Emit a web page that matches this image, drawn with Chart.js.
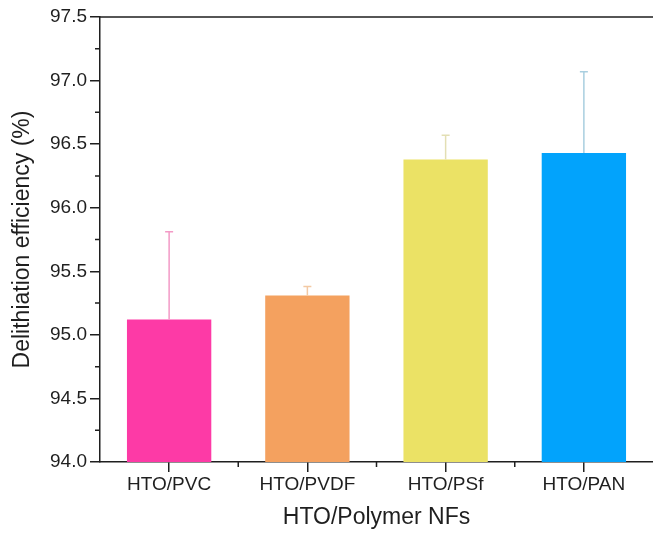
<!DOCTYPE html>
<html>
<head>
<meta charset="utf-8">
<script src="https://cdn.jsdelivr.net/npm/chart.js@4.4.1/dist/chart.umd.min.js"></script>
<style>
  html, body { margin: 0; padding: 0; background: #ffffff; }
  #wrap { width: 653px; height: 538px; position: relative; }
</style>
</head>
<body>
<div id="wrap"><canvas id="chart" width="653" height="538"></canvas></div>
<script>
// Delithiation efficiency of HTO/polymer nanofibres
const categories = ['HTO/PVC', 'HTO/PVDF', 'HTO/PSf', 'HTO/PAN'];
const efficiency = [95.12, 95.31, 96.38, 96.43];
const errorUp = [0.69, 0.07, 0.19, 0.64];
const yTicks = [94.0, 94.5, 95.0, 95.5, 96.0, 96.5, 97.0, 97.5];

const barColors = ['#fd3aa6', '#f4a15f', '#ebe265', '#02a3fc'];
const whiskerColors = ['#f39ac6', '#f3c9a4', '#e3dfb4', '#a9cfe0'];
const inkColor = '#1f1f1f';
const fontFamily = '"Liberation Sans", Arial, sans-serif';

// Upper error whiskers plus minor ticks and the top frame line
const extras = {
  id: 'extras',
  afterDatasetsDraw(chart) {
    const { ctx, scales: { y } } = chart;
    const meta = chart.getDatasetMeta(0);
    ctx.save();
    meta.data.forEach((bar, i) => {
      const top = y.getPixelForValue(efficiency[i] + errorUp[i]);
      const base = y.getPixelForValue(efficiency[i]);
      ctx.strokeStyle = whiskerColors[i];
      ctx.lineWidth = 1.5;
      ctx.beginPath();
      ctx.moveTo(bar.x, base);
      ctx.lineTo(bar.x, top);
      ctx.moveTo(bar.x - 4, top);
      ctx.lineTo(bar.x + 4, top);
      ctx.stroke();
    });
    ctx.restore();
  },
  afterDraw(chart) {
    const { ctx, chartArea, scales: { x, y } } = chart;
    ctx.save();
    ctx.strokeStyle = inkColor;
    ctx.lineWidth = 1.5;
    ctx.beginPath();
    // top frame
    ctx.moveTo(chartArea.left, chartArea.top);
    ctx.lineTo(chartArea.right, chartArea.top);
    // minor y ticks halfway between labelled ones
    for (let i = 0; i < yTicks.length - 1; i++) {
      const py = y.getPixelForValue((yTicks[i] + yTicks[i + 1]) / 2);
      ctx.moveTo(chartArea.left, py);
      ctx.lineTo(chartArea.left - 5, py);
    }
    // minor x ticks between categories
    for (let i = 0; i < categories.length - 1; i++) {
      const px = (x.getPixelForValue(i) + x.getPixelForValue(i + 1)) / 2;
      ctx.moveTo(px, chartArea.bottom);
      ctx.lineTo(px, chartArea.bottom + 5);
    }
    ctx.stroke();
    ctx.restore();
  }
};

new Chart(document.getElementById('chart'), {
  type: 'bar',
  data: {
    labels: categories,
    datasets: [{
      data: efficiency,
      backgroundColor: barColors,
      borderWidth: 0,
      barPercentage: 0.61,
      categoryPercentage: 1.0
    }]
  },
  options: {
    responsive: false,
    animation: false,
    layout: { padding: { top: 17, right: 0, left: 0, bottom: 0 } },
    plugins: { legend: { display: false }, tooltip: { enabled: false } },
    scales: {
      x: {
        offset: true,
        afterFit(s) { s.height = 76; },
        grid: {
          display: true, drawOnChartArea: false, offset: false,
          tickLength: 10, color: inkColor, lineWidth: 1.5
        },
        border: { display: true, color: inkColor, width: 1.5 },
        ticks: { color: inkColor, font: { family: fontFamily, size: 19 }, padding: 1 },
        title: {
          display: true, text: 'HTO/Polymer NFs', color: inkColor,
          font: { family: fontFamily, size: 23 }, padding: { top: 0, bottom: 7 }
        }
      },
      y: {
        min: 94, max: 97.5,
        afterFit(s) { s.width = 100; },
        afterBuildTicks(s) { s.ticks = yTicks.map(v => ({ value: v })); },
        grid: {
          display: true, drawOnChartArea: false,
          tickLength: 10, color: inkColor, lineWidth: 1.5
        },
        border: { display: true, color: inkColor, width: 1.5 },
        ticks: {
          color: inkColor, font: { family: fontFamily, size: 19 }, padding: 3,
          callback: v => Number(v).toFixed(1)
        },
        title: {
          display: true, text: 'Delithiation efficiency (%)', color: inkColor,
          font: { family: fontFamily, size: 23 }, padding: { top: 9, bottom: 0 }
        }
      }
    }
  },
  plugins: [extras]
});
</script>
</body>
</html>
